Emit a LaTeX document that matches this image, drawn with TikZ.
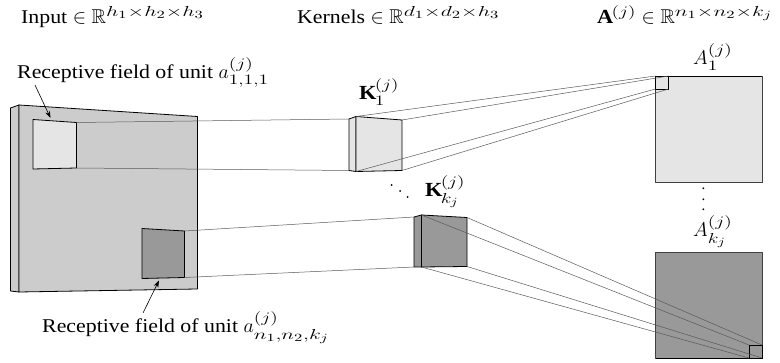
\RequirePackage{fix-cm}
\documentclass[tikz,border=0pt]{standalone}
\usepackage{amssymb}
\usepackage{fontspec}
\setmainfont[FakeStretch=1.12]{Liberation Serif}
\usetikzlibrary{arrows.meta}
\DeclareMathSizes{19.5}{20}{14.5}{11}
\newcommand{\sx}[1]{\scalebox{1.35}[1]{$\scriptstyle #1$}}
\newcommand{\tx}[1]{\scalebox{1.5}[1]{$\scriptstyle #1$}}
\definecolor{lightg}{gray}{0.9}
\definecolor{midg}{gray}{0.8}
\definecolor{darkg}{gray}{0.6}
\tikzset{
  px/.style={x=1pt,y=-1pt},
  face/.style={draw=black,line width=0.8pt,line join=round},
  link/.style={draw=black!65,line width=0.5pt},
  lbl/.style={inner sep=0pt,font=\fontsize{19.5}{22}\selectfont},
  pointer/.style={draw=black,line width=0.6pt,-{Stealth[length=7pt,width=5pt]}}
}
\begin{document}
\begin{tikzpicture}[px]
\useasboundingbox (0,0) rectangle (780,363);
% input
\draw[face,fill=midg] (10.5,108) -- (19,105) -- (19,292) -- (10.5,291) -- cycle;
\draw[face,fill=midg] (19,105) -- (197.5,116.5) -- (197.5,289) -- (19,292) -- cycle;
\draw[face,fill=lightg] (33,119.5) -- (76.5,122.5) -- (76.5,168) -- (33,169) -- cycle;
\draw[face,fill=darkg] (142,228.5) -- (184.5,231) -- (184.5,277.5) -- (142,278.5) -- cycle;
\coordinate (ia) at (76.5,122.5); \coordinate (ib) at (76.5,168);
\coordinate (ic) at (184.5,231); \coordinate (id) at (184.5,277.5);
% kernels
\draw[face,fill=lightg] (349,119) -- (356,116.5) -- (356,171.5) -- (349,170.5) -- cycle;
\draw[face,fill=lightg] (356,116.5) -- (402,120) -- (402,170.5) -- (356,171.5) -- cycle;
\draw[face,fill=darkg] (414,217) -- (421.5,215) -- (421.5,267) -- (414,267) -- cycle;
\draw[face,fill=darkg] (421.5,215) -- (467,217.5) -- (467,266.5) -- (421.5,267) -- cycle;
\coordinate (ka) at (349,119); \coordinate (kb) at (349,170.5);
\coordinate (kc) at (414,217); \coordinate (kd) at (414,267);
\draw[link] (ia) -- (ka) (ib) -- (kb) (ic) -- (kc) (id) -- (kd);
% outputs
\draw[face,draw=black!75,fill=lightg] (655.5,76) rectangle (762,182.5);
\draw[black,line width=0.8pt] (655.5,76) -- (762,76);
\draw[face,draw=black!75,fill=darkg] (655.5,252) rectangle (762,358);
\draw[black,line width=0.8pt] (655.5,358) -- (762,358);
\draw[black,line width=0.6pt] (655.5,76) rectangle (668.5,89);
\draw[black,line width=0.6pt] (749,345) rectangle (762,358);
% links
\draw[link] (356,116.5) -- (655.5,76) (402,120) -- (668.5,76)
  (356,171.5) -- (655.5,89) (402,170.5) -- (668.5,89);
\draw[link] (421.5,215) -- (749,345) (467,217.5) -- (762,345)
  (421.5,267) -- (749,358) (467,266.5) -- (762,358);
% labels
\node[lbl,anchor=base west] at (21,24) {Input $\in\mathbb{R}^{\tx{h_1\times h_2\times h_3}}$};
\node[lbl,anchor=base west] at (297,24) {Kernels $\in\mathbb{R}^{\tx{d_1\times d_2\times h_3}}$};
\node[lbl,anchor=base west] at (597,24) {$\mathbf{A}^{\sx{(j)}}\in\mathbb{R}^{\tx{n_1\times n_2\times k_j}}$};
\node[lbl,anchor=base west] (rfa) at (17,79) {Receptive field of unit $a_{\sx{1,1,1}}^{\sx{(j)}}$};
\node[lbl,anchor=base west] (rfb) at (42,333) {Receptive field of unit $a_{\tx{n_1,n_2,k_j}}^{\sx{(j)}}$};
\coordinate (pa) at (50.5,118); \coordinate (pb) at (159,280.5);
\coordinate (pas) at (35,85); \coordinate (pbs) at (143,313);
\draw[pointer] (pas) -- (pa);
\draw[pointer] (pbs) -- (pb);
\node[lbl,anchor=base west] at (359,100) {$\mathbf{K}_{\sx{1}}^{\sx{(j)}}$};
\node[lbl,anchor=base west] at (425,197) {$\mathbf{K}_{\sx{k_j}}^{\sx{(j)}}$};
\node[lbl,anchor=base west] at (693,65) {$A_{\sx{1}}^{\sx{(j)}}$};
\node[lbl,anchor=base west] at (693,237) {$A_{\sx{k_j}}^{\sx{(j)}}$};
% dots
\foreach \p in {(391.7,185),(400,191),(407.7,197),(703.3,188.3),(703.3,199.3),(703.3,209.3)}
  \fill \p circle (1pt);
\end{tikzpicture}
\end{document}
